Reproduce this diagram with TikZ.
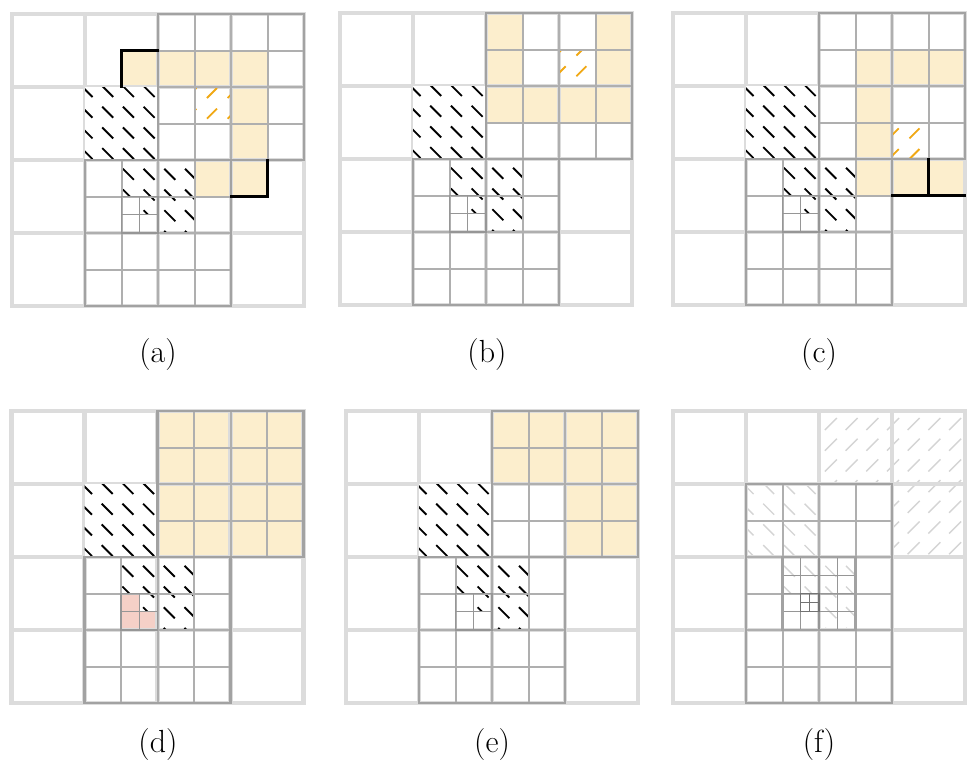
\documentclass[tikz,border=0pt]{standalone}
\definecolor{ofill}{RGB}{252,238,205}
\definecolor{pfill}{RGB}{245,208,199}
\definecolor{cgray}{RGB}{220,220,220}
\definecolor{gone}{RGB}{175,175,175}
\definecolor{goneo}{RGB}{162,162,162}
\definecolor{gtwo}{RGB}{150,150,150}
\definecolor{gthree}{RGB}{115,115,115}
\definecolor{ohatch}{RGB}{240,168,20}
\definecolor{lhatch}{RGB}{212,212,212}
\tikzset{
  coarse/.style={cgray, line width=4.2pt, line cap=rect},
  lone/.style={gone, line width=2pt, line cap=rect},
  loneout/.style={goneo, line width=2.7pt, line cap=rect},
  ltwo/.style={gtwo, line width=1.4pt, line cap=rect},
  lthree/.style={gthree, line width=1.2pt, line cap=rect},
  bh/.style={black, line width=1.9pt},
  oh/.style={ohatch, line width=1.8pt},
  lh/.style={lhatch, line width=1.4pt},
  bout/.style={black, line width=2.4pt, line cap=rect},
  lab/.style={font=\fontsize{32}{38}\selectfont, inner sep=0pt}
}
\def\C{73}\def\h{36.5}\def\qq{18.25}\def\ee{9.125}\def\hp{20.7}
\newcommand\subgrid[6]{%
  \foreach \k in {0,...,#4}{\draw[#1] ({\ox+(#2+\k)*#6},{\oy+#3*#6}) -- ++(0,{#5*#6});}
  \foreach \k in {0,...,#5}{\draw[#1] ({\ox+#2*#6},{\oy+(#3+\k)*#6}) -- ++({#4*#6},0);}
}
\newcommand\outl[6]{\draw[#1] ({\ox+#2*#6},{\oy+#3*#6}) rectangle ++({#4*#6},{#5*#6});}
\newcommand\hatchcell[8]{%
  \begin{scope}
  \clip (#3,#4) rectangle ++(#5,#5);
  \pgfmathtruncatemacro\ia{floor(((#3)-(#6))/\hp)-1}%
  \pgfmathtruncatemacro\ib{floor(((#3)+(#5)-(#6))/\hp)}%
  \pgfmathtruncatemacro\ja{floor(((#4)-(#7))/\hp)-1}%
  \pgfmathtruncatemacro\jb{floor(((#4)+(#5)-(#7))/\hp)}%
  \foreach \i in {\ia,...,\ib}{\foreach \j in {\ja,...,\jb}{%
    \ifnum#2=1
      \draw[#1] ({#6+\i*\hp},{#7+\j*\hp}) -- ++(#8,#8);
    \else
      \draw[#1] ({#6+\i*\hp},{#7+\j*\hp+#8}) -- ++(#8,-#8);
    \fi}}
  \end{scope}}
\newcommand\bhatch[3]{\hatchcell{bh}{1}{\ox+#1*#3}{\oy+#2*#3}{#3}{\ox+7.4}{\oy+9.9}{11}}
\newcommand\ohatchc[2]{\hatchcell{oh}{0}{\ox+#1*\h}{\oy+#2*\h}{\h}{\ox+8.7}{\oy+11.9}{10}}
\newcommand\lhatchNE[2]{\hatchcell{lh}{0}{\ox+#1*\C}{\oy+#2*\C}{\C}{\ox+7}{\oy+7}{12}}
\newcommand\lhatchNW[3]{\hatchcell{lh}{1}{\ox+#1*#3}{\oy+#2*#3}{#3}{\ox+7.4}{\oy+9.9}{11}}
\newcommand\ocell[2]{\fill[ofill] ({\ox+#1*\h},{\oy+#2*\h}) rectangle ++(\h,\h);}
\newcommand\pcell[2]{\fill[pfill] ({\ox+#1*\qq},{\oy+#2*\qq}) rectangle ++(\qq,\qq);}
\newcommand\stdpanel[3]{%
  #1%
  \subgrid{coarse}{0}{0}{4}{4}{\C}
  \fill[white] ({\ox+\C},{\oy+\C}) rectangle ++(\C,\C);
  \bhatch{1}{1}{\C}\bhatch{3}{4}{\h}\bhatch{4}{4}{\h}\bhatch{4}{5}{\h}\bhatch{7}{10}{\qq}
  #2%
  \subgrid{lone}{4}{0}{4}{4}{\h}\subgrid{lone}{2}{4}{4}{4}{\h}
  \outl{loneout}{4}{0}{4}{4}{\h}\outl{loneout}{2}{4}{4}{4}{\h}
  \subgrid{ltwo}{6}{10}{2}{2}{\qq}
  #3%
}
\begin{document}
\begin{tikzpicture}[x=1pt,y=-1pt]
\useasboundingbox (0,0) rectangle (970,772);
% (a)
\def\ox{12}\def\oy{14}
\stdpanel{\ocell{3}{1}\ocell{4}{1}\ocell{5}{1}\ocell{6}{1}\ocell{6}{2}\ocell{6}{3}\ocell{6}{4}\ocell{5}{4}}
  {\ohatchc{5}{2}}
  {\draw[bout] ({\ox+3*\h},{\oy+2*\h}) -- ({\ox+3*\h},{\oy+\h}) -- ({\ox+4*\h},{\oy+\h});
   \draw[bout] ({\ox+7*\h},{\oy+4*\h}) -- ({\ox+7*\h},{\oy+5*\h}) -- ({\ox+6*\h},{\oy+5*\h});}
\node[lab] (la) at (158,355) {(a)};
% (b)
\def\ox{340}\def\oy{13}
\stdpanel{\ocell{4}{0}\ocell{4}{1}\ocell{7}{0}\ocell{7}{1}\ocell{4}{2}\ocell{5}{2}\ocell{6}{2}\ocell{7}{2}}
  {\ohatchc{6}{1}}{}
\node[lab] (lb) at (487,355) {(b)};
% (c)
\def\ox{673}\def\oy{13}
\stdpanel{\ocell{5}{1}\ocell{6}{1}\ocell{7}{1}\ocell{5}{2}\ocell{5}{3}\ocell{5}{4}\ocell{6}{4}\ocell{7}{4}}
  {\ohatchc{6}{3}}
  {\draw[bout] ({\ox+6*\h},{\oy+5*\h}) -- ({\ox+8*\h},{\oy+5*\h});
   \draw[bout] ({\ox+7*\h},{\oy+4*\h}) -- ({\ox+7*\h},{\oy+5*\h});}
\node[lab] (lc) at (819,355) {(c)};
% (d)
\def\ox{11.5}\def\oy{411}
\stdpanel{\fill[ofill] ({\ox+2*\C},{\oy}) rectangle ++({2*\C},{2*\C});
  \pcell{6}{10}\pcell{6}{11}\pcell{7}{11}}{}{}
\node[lab] (ld) at (158,745) {(d)};
% (e)
\def\ox{346}\def\oy{411}
\stdpanel{\fill[ofill] ({\ox+2*\C},{\oy}) rectangle ++({2*\C},{\C});
  \fill[ofill] ({\ox+3*\C},{\oy+\C}) rectangle ++(\C,\C);}{}{}
\node[lab] (le) at (492,745) {(e)};
% (f)
\def\ox{673}\def\oy{411}
\lhatchNE{2}{0}\lhatchNE{3}{0}\lhatchNE{3}{1}
\lhatchNW{1}{1}{\C}\lhatchNW{3}{4}{\h}\lhatchNW{4}{4}{\h}\lhatchNW{4}{5}{\h}
\subgrid{coarse}{0}{0}{4}{4}{\C}
\subgrid{lone}{2}{2}{4}{6}{\h}
\outl{loneout}{2}{2}{4}{6}{\h}
\subgrid{ltwo}{6}{8}{4}{4}{\qq}
\outl{loneout}{6}{8}{4}{4}{\qq}
\subgrid{lthree}{14}{20}{2}{2}{\ee}
\outl{lthree}{14}{20}{2}{2}{\ee}
\node[lab] (lf) at (819,745) {(f)};
\end{tikzpicture}
\end{document}
